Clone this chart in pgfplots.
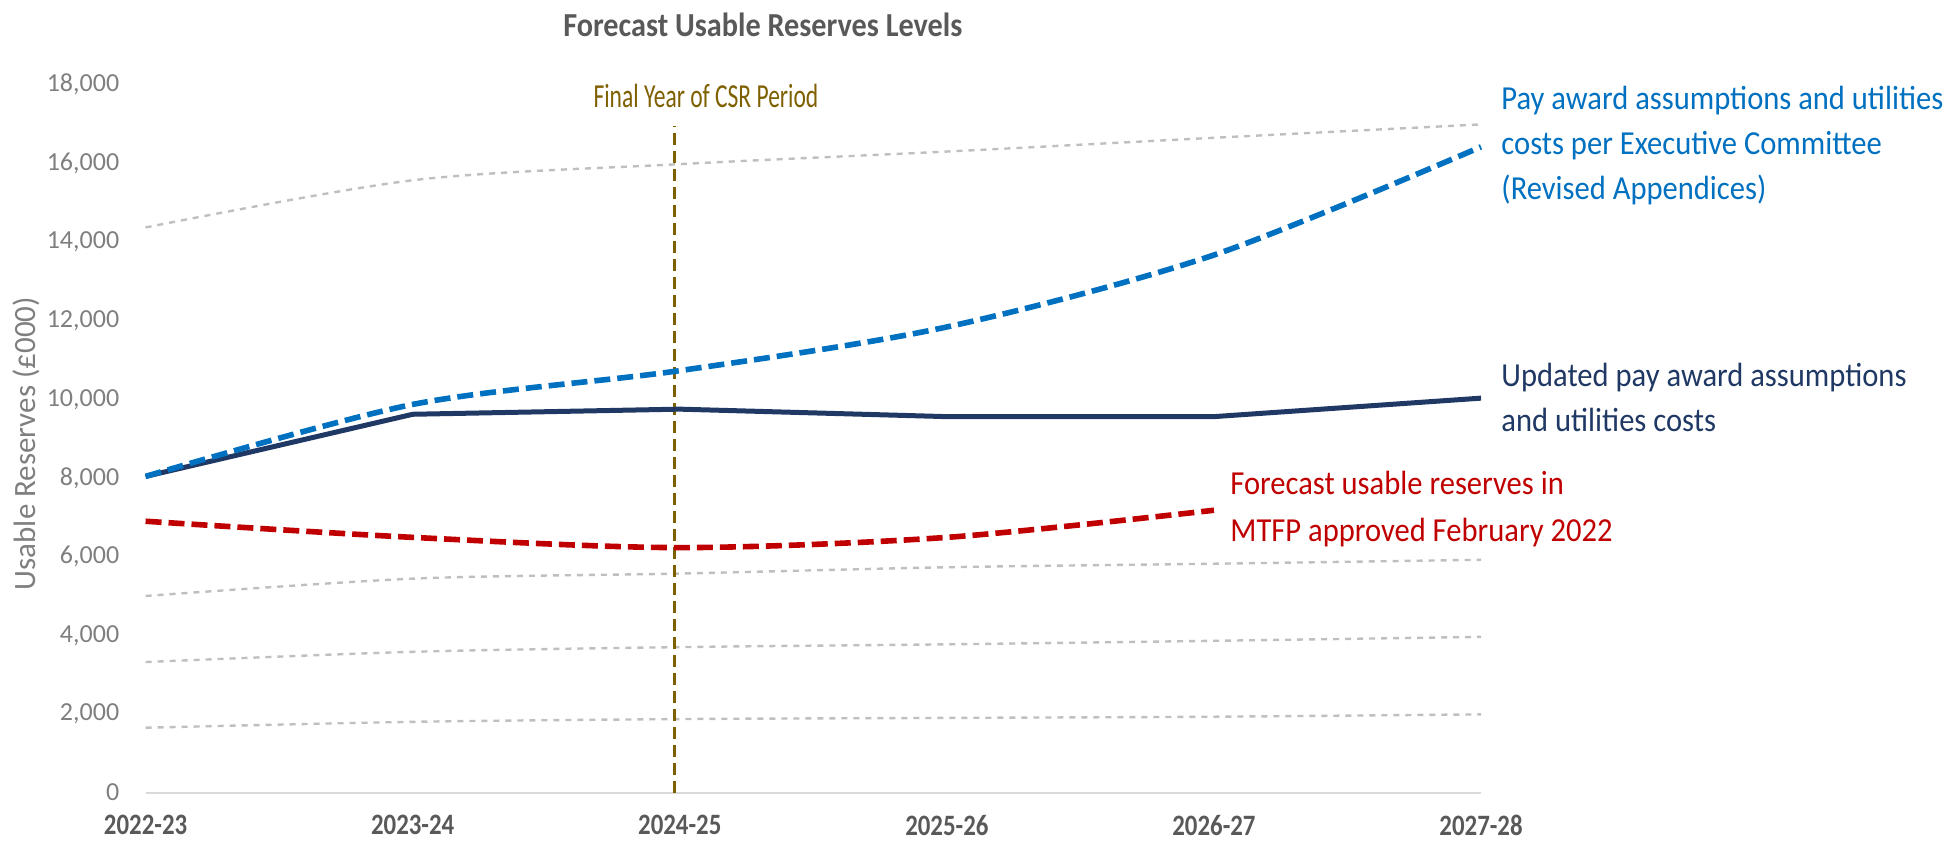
\documentclass[border=0pt]{standalone}
\usepackage{pgfplots}
\pgfplotsset{compat=1.18}
\usepackage{fontspec}
\setmainfont{Carlito}
\newfontfamily\condA{Carlito}[FakeStretch=0.91]
\newfontfamily\condT{Carlito}[FakeStretch=0.90]
\newfontfamily\condF{Carlito}[FakeStretch=0.70]
\newfontfamily\condX{Carlito}[FakeStretch=0.84]
\definecolor{navyc}{HTML}{1F3864}
\definecolor{bluec}{HTML}{0070C0}
\definecolor{redc}{HTML}{C00000}
\definecolor{grayc}{HTML}{BFBFBF}
\definecolor{brownc}{HTML}{7F6000}
\definecolor{titlec}{HTML}{595959}
\definecolor{tickc}{HTML}{7F7F7F}
\begin{document}
\begin{tikzpicture}
\begin{axis}[
  at={(0,0)}, anchor=south west,
  scale only axis, width=667.8pt, height=354pt,
  xmin=0, xmax=5, ymin=0, ymax=18000,
  clip=false,
  axis lines=left,
  axis line style={-},
  y axis line style={draw=none},
  x axis line style={draw=black!15, line width=1pt},
  major tick length=0pt,
  xtick={0,1,2,3,4,5},
  xticklabels={2022-23,2023-24,2024-25,2025-26,2026-27,2027-28},
  ytick={0,2000,...,18000},
  scaled y ticks=false,
  /pgf/number format/.cd, 1000 sep={,}, assume math mode=true,
  /pgfplots/.cd,
  yticklabel style={font=\fontsize{13}{13}\selectfont, text=tickc, anchor=east, inner sep=0pt, xshift=-13pt},
  xticklabel style={font=\condX\bfseries\fontsize{14.8}{14.8}\selectfont, text=titlec, anchor=north, inner sep=0pt, yshift=-11pt},
]
% grey dashed reference bands
\addplot[grayc, line width=1.2pt, dash pattern=on 3pt off 3pt, smooth] coordinates {(0,14370) (1,15570) (2,15980) (3,16300) (4,16650) (5,16990)};
\addplot[grayc, line width=1.2pt, dash pattern=on 3pt off 3pt, smooth] coordinates {(0,5000) (1,5440) (2,5570) (3,5730) (4,5820) (5,5920)};
\addplot[grayc, line width=1.2pt, dash pattern=on 3pt off 3pt, smooth] coordinates {(0,3320) (1,3580) (2,3700) (3,3770) (4,3860) (5,3960)};
\addplot[grayc, line width=1.2pt, dash pattern=on 3pt off 3pt, smooth] coordinates {(0,1650) (1,1800) (2,1870) (3,1900) (4,1930) (5,1990)};
% final year of CSR period marker
\addplot[brownc, line width=1.5pt, dash pattern=on 6pt off 3pt] coordinates {(1.98,0) (1.98,16950)};
% MTFP Feb 2022
\addplot[redc, line width=2.8pt, dash pattern=on 8pt off 3.5pt, smooth] coordinates {(0,6900) (1,6490) (2,6230) (3,6490) (4,7180)};
% updated
\addplot[navyc, line width=2.5pt] coordinates {(0,8040) (1,9620) (2,9750) (3,9560) (4,9560) (5,10030)};
% exec committee
\addplot[bluec, line width=2.8pt, dash pattern=on 8pt off 3.5pt, smooth] coordinates {(0,8040) (1,9870) (2,10730) (3,11840) (4,13670) (5,16420)};

% texts
\node[anchor=base, text=titlec, font=\condT\bfseries\fontsize{16.8}{16.8}\selectfont] at (axis cs:2.311,19225) {Forecast Usable Reserves Levels};
\node[anchor=base, text=brownc, font=\condF\fontsize{16.8}{16.8}\selectfont] at (axis cs:2.098,17413) {Final Year of CSR Period};
\node[rotate=90, text=tickc, font=\fontsize{15.5}{15.5}\selectfont] at (axis cs:-0.446,8872) {Usable Reserves (£000)};
\begin{scope}[every node/.style={anchor=base west, inner sep=0pt, font=\condA\fontsize{16.8}{16.8}\selectfont}]
\node[text=bluec] at (axis cs:5.075,17362) {Pay award assumptions and utilities};
\node[text=bluec] at (axis cs:5.075,16218) {costs per Executive Committee};
\node[text=bluec] at (axis cs:5.075,15074) {(Revised Appendices)};
\node[text=navyc] at (axis cs:5.075,10321) {Updated pay award assumptions};
\node[text=navyc] at (axis cs:5.075,9177) {and utilities costs};
\node[text=redc] at (axis cs:4.06,7575) {Forecast usable reserves in};
\node[text=redc] at (axis cs:4.06,6380) {MTFP approved February 2022};
\end{scope}
\end{axis}
\pgfresetboundingbox
\path[use as bounding box] (-72.8pt,-24pt) rectangle (903.3pt,396.35pt);
\end{tikzpicture}
\end{document}
